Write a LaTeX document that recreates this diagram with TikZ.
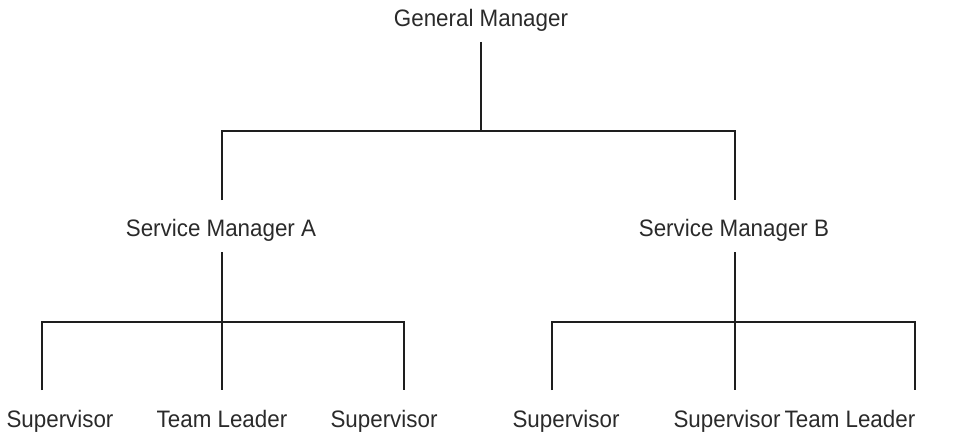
\documentclass[tikz,border=0pt]{standalone}
\usepackage{fontspec}
\usepackage{graphicx}
\setmainfont{Liberation Sans}
\definecolor{txt}{HTML}{2A2A2A}
\definecolor{ln}{HTML}{1E1E1E}
\newcommand{\cond}[1]{\scalebox{0.94}[1]{#1}}
\tikzset{
  lbl/.style={font=\fontsize{23.8}{28}\selectfont, text=txt, inner sep=0pt, anchor=base},
  conn/.style={draw=ln, line width=1.6pt, line cap=butt}
}
\begin{document}
\begin{tikzpicture}[x=1pt,y=-1pt]
\useasboundingbox (0,0) rectangle (961,436);
% labels
\node[lbl] (gm) at (481,27) {\cond{General Manager}};
\node[lbl] (sma) at (221,236) {\cond{Service Manager A}};
\node[lbl] (smb) at (734,236) {\cond{Service Manager B}};
\node[lbl] (s1) at (60,427) {\cond{Supervisor}};
\node[lbl] (t1) at (222,427) {\cond{Team Leader}};
\node[lbl] (s2) at (384,427) {\cond{Supervisor}};
\node[lbl] (s3) at (566,427) {\cond{Supervisor}};
\node[lbl] (s4) at (727,427) {\cond{Supervisor}};
\node[lbl] (t2) at (850,427) {\cond{Team Leader}};
% coordinates
\coordinate (gmb) at (481,42);
\coordinate (gmj) at (481,131);
\coordinate (ja) at (222,131);
\coordinate (jb) at (735,131);
\coordinate (sat) at (222,200);
\coordinate (sbt) at (735,200);
\coordinate (sab) at (222,252);
\coordinate (sbb) at (735,252);
\coordinate (ba) at (222,322);
\coordinate (bb) at (735,322);
\coordinate (a1) at (42,322);
\coordinate (a3) at (404,322);
\coordinate (b1) at (552,322);
\coordinate (b3) at (915,322);
\coordinate (a1e) at (42,390);
\coordinate (a2e) at (222,390);
\coordinate (a3e) at (404,390);
\coordinate (b1e) at (552,390);
\coordinate (b2e) at (735,390);
\coordinate (b3e) at (915,390);
% connectors
\draw[conn] (gmb) -- (gmj);
\draw[conn] (sat) -- (ja) -- (jb) -- (sbt);
\draw[conn] (sab) -- (ba);
\draw[conn] (sbb) -- (bb);
\draw[conn] (a1e) -- (a1) -- (a3) -- (a3e);
\draw[conn] (ba) -- (a2e);
\draw[conn] (b1e) -- (b1) -- (b3) -- (b3e);
\draw[conn] (bb) -- (b2e);
\end{tikzpicture}
\end{document}
